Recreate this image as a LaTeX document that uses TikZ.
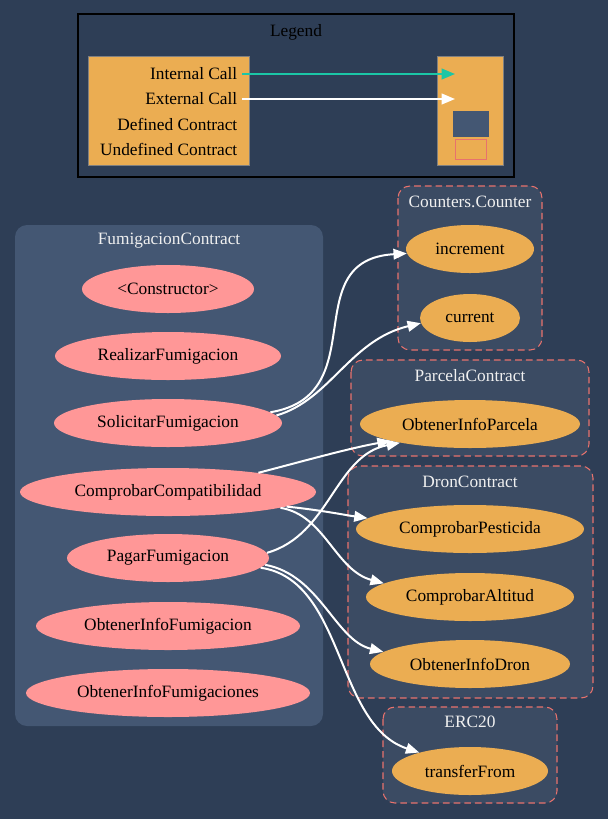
\documentclass[tikz,border=0pt]{standalone}
\usepackage{fontspec}
\setmainfont{Liberation Serif}
\usetikzlibrary{shapes}
\usetikzlibrary{arrows.meta}
\usetikzlibrary{positioning}
\definecolor{bg}{HTML}{2E3E56}
\definecolor{defbox}{HTML}{445773}
\definecolor{undefbox}{HTML}{3B4B63}
\definecolor{undefline}{HTML}{E8726D}
\definecolor{pubfn}{HTML}{FF9797}
\definecolor{extfn}{HTML}{EBAD52}
\definecolor{intcall}{HTML}{1BC6A6}
\definecolor{ttlcol}{HTML}{F0F0F0}

\begin{document}
\begin{tikzpicture}[x=0.75pt,y=-0.75pt,
  every node/.style={font=\fontsize{13}{15}\selectfont},
  fn/.style={ellipse,fill=pubfn,inner sep=0pt,minimum height=36pt},
  extf/.style={ellipse,fill=extfn,inner sep=0pt,minimum height=36pt},
  ttl/.style={text=ttlcol},
  undef/.style={draw=undefline,dash pattern=on 5pt off 3pt,fill=undefbox,rounded corners=9pt,line width=0.8pt},
  call/.style={draw=white,line width=1.5pt,-{Triangle[length=10pt,width=8pt]}}]
\fill[bg] (0,0) rectangle (608,819);
\useasboundingbox (0,0) rectangle (608,819);

\draw[black,line width=0.8pt] (78,14) rectangle (514,177);
\node (lg) at (296,32) {Legend};
\draw[fill=extfn,draw=gray] (88,56) rectangle (249,165);
\draw[fill=extfn,draw=gray] (437,56) rectangle (503,165);
\node[anchor=east] (ic) at (242,74) {Internal Call};
\node[anchor=east] (ec) at (242,99) {External Call};
\node[anchor=east] (dc) at (242,124) {Defined Contract};
\node[anchor=east] (uc) at (242,149) {Undefined Contract};
\coordinate (icend) at (455,74);
\coordinate (ecend) at (455,99);
\draw[call,draw=intcall] (ic.east) -- (icend);
\draw[call] (ec.east) -- (ecend);
\draw[fill=defbox,draw=defbox] (453,111) rectangle (488,136);
\draw[draw=undefline,fill=extfn] (455,139) rectangle (486,159);

\draw[fill=defbox,draw=none,rounded corners=9pt] (15,225) rectangle (323,726);
\node[ttl] (fc) at (169,241) {FumigacionContract};
\draw[undef] (398,186) rectangle (542,350);
\node[ttl] (cc) at (470,202) {Counters.Counter};
\draw[undef] (351,360) rectangle (589,456);
\node[ttl] (pc) at (470,376) {ParcelaContract};
\draw[undef] (348,466) rectangle (593,698);
\node[ttl] (drc) at (470,482) {DronContract};
\draw[undef] (383,707) rectangle (557,803);
\node[ttl] (erc) at (470,722) {ERC20};

\node[fn,minimum width=129pt] (ctor) at (168,289) {<Constructor>};
\node[fn,minimum width=169.5pt] (realizar) at (168,356) {RealizarFumigacion};
\node[fn,minimum width=171pt] (solicitar) at (168,423) {SolicitarFumigacion};
\node[fn,minimum width=222pt] (compat) at (168,492) {ComprobarCompatibilidad};
\node[fn,minimum width=151.5pt] (pagar) at (168,558) {PagarFumigacion};
\node[fn,minimum width=198pt] (infofum) at (168,626) {ObtenerInfoFumigacion};
\node[fn,minimum width=213pt] (infofums) at (168,693) {ObtenerInfoFumigaciones};

\node[extf,minimum width=96pt] (increment) at (470,249) {increment};
\node[extf,minimum width=75pt] (current) at (470,318) {current};
\node[extf,minimum width=165pt] (parcela) at (470,424) {ObtenerInfoParcela};
\node[extf,minimum width=171pt] (pesticida) at (470,529) {ComprobarPesticida};
\node[extf,minimum width=156pt] (altitud) at (470,597) {ComprobarAltitud};
\node[extf,minimum width=150pt] (dron) at (470,664) {ObtenerInfoDron};
\node[extf,minimum width=117pt] (transfer) at (470,771) {transferFrom};

\draw[call] (solicitar.6) .. controls (375,395) and (295,260) .. (increment.184);
\draw[call] (solicitar.4) .. controls (330,400) and (350,340) .. (current.186);
\draw[call] (compat.12) .. controls (300,462) and (350,448) .. (parcela.192);
\draw[call] (pagar.3) .. controls (330,535) and (335,455) .. (parcela.195);
\draw[call] (compat.353) .. controls (320,510) and (345,515) .. (pesticida.174);
\draw[call] (compat.352) .. controls (325,515) and (335,570) .. (altitud.171);
\draw[call] (pagar.356) .. controls (320,575) and (335,640) .. (dron.172);
\draw[call] (pagar.354) .. controls (345,580) and (335,725) .. (transfer.160);
\end{tikzpicture}
\end{document}
